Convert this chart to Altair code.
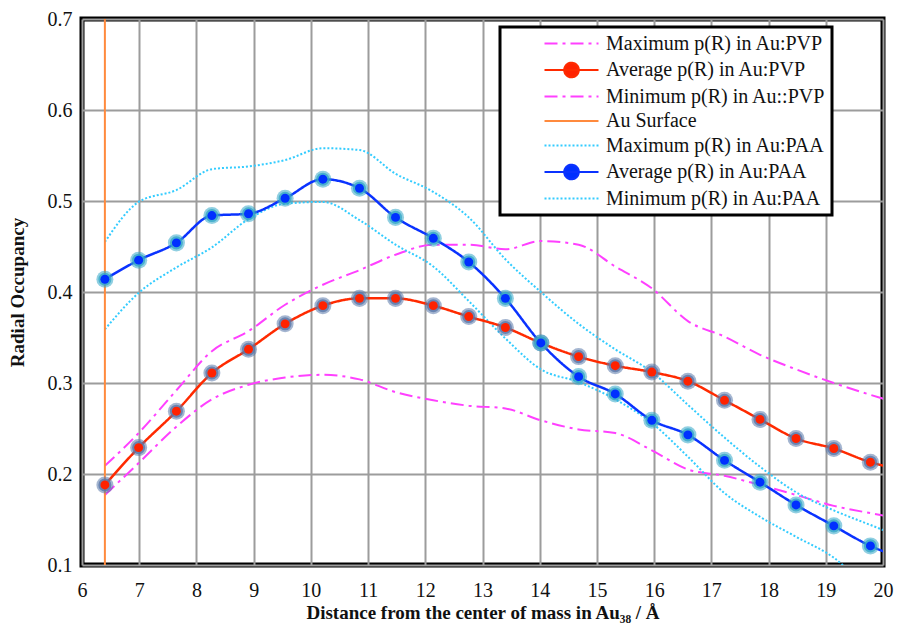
import altair as alt
import pandas as pd

# ---------------- data ----------------
x_vals = [6.40, 6.99, 7.65, 8.27, 8.91, 9.55, 10.21, 10.85, 11.48, 12.14, 12.76,
          13.40, 14.02, 14.68, 15.32, 15.96, 16.59, 17.23, 17.85, 18.48, 19.14,
          19.78, 20.42]

max_pvp = [0.209, 0.245, 0.292, 0.335, 0.357, 0.386, 0.408, 0.424, 0.441, 0.452, 0.452,
           0.447, 0.456, 0.452, 0.428, 0.404, 0.368, 0.351, 0.331, 0.315, 0.300,
           0.287, 0.275]
avg_pvp = [0.188, 0.229, 0.269, 0.311, 0.337, 0.365, 0.385, 0.393, 0.393, 0.385, 0.373,
           0.361, 0.344, 0.329, 0.319, 0.312, 0.302, 0.281, 0.260, 0.239, 0.228,
           0.213, 0.204]
min_pvp = [0.177, 0.212, 0.252, 0.282, 0.298, 0.306, 0.309, 0.304, 0.290, 0.281, 0.275,
           0.272, 0.259, 0.249, 0.245, 0.226, 0.205, 0.198, 0.188, 0.177, 0.165,
           0.157, 0.150]
max_paa = [0.455, 0.499, 0.512, 0.535, 0.538, 0.545, 0.558, 0.556, 0.530, 0.510, 0.482,
           0.436, 0.400, 0.365, 0.337, 0.312, 0.276, 0.240, 0.208, 0.180, 0.160,
           0.144, 0.128]
avg_paa = [0.414, 0.435, 0.454, 0.484, 0.486, 0.503, 0.524, 0.514, 0.482, 0.459, 0.433,
           0.393, 0.344, 0.307, 0.288, 0.259, 0.243, 0.215, 0.191, 0.166, 0.143,
           0.121, 0.106]
min_paa = [0.359, 0.399, 0.427, 0.449, 0.480, 0.497, 0.499, 0.479, 0.452, 0.428, 0.390,
           0.349, 0.315, 0.301, 0.282, 0.256, 0.219, 0.179, 0.153, 0.131, 0.108,
           0.072, 0.050]

surface_x = [6.4, 6.4]
surface_y = [0.1, 0.7]

series_names = ["Maximum p(R) in Au:PVP", "Average p(R) in Au:PVP",
                "Minimum p(R) in Au::PVP", "Au Surface",
                "Maximum p(R) in Au:PAA", "Average p(R) in Au:PAA",
                "Minimum p(R) in Au:PAA"]

x_ticks = list(range(6, 21))
y_ticks = [0.1, 0.2, 0.3, 0.4, 0.5, 0.6, 0.7]

# ---------------- styles ----------------
MAGENTA = "#FF40FF"
RED = "#FF2A00"
ORANGE = "#FF8A3D"
CYAN = "#33CCFF"
BLUE = "#0A32FF"
DASHDOT = [13, 5, 3, 5]
DOTTED = [2, 2]
SOLID = [1, 0]
SERIF = "'Liberation Serif', 'Times New Roman', Times, serif"

def frame(xs, ys, name):
    return pd.DataFrame({"x": xs, "y": ys, "series": name})

df_all = pd.concat([
    frame(x_vals, max_pvp, series_names[0]),
    frame(x_vals, avg_pvp, series_names[1]),
    frame(x_vals, min_pvp, series_names[2]),
    frame(surface_x, surface_y, series_names[3]),
    frame(x_vals, max_paa, series_names[4]),
    frame(x_vals, avg_paa, series_names[5]),
    frame(x_vals, min_paa, series_names[6]),
], ignore_index=True)

X = alt.X("x:Q", scale=alt.Scale(domain=[6, 20], nice=False),
          axis=alt.Axis(values=x_ticks, format="d", grid=True, gridColor="#9C9C9C",
                        gridWidth=2, domain=False, ticks=False, labelFlush=False,
                        labelFont=SERIF, labelFontSize=20, labelColor="#111",
                        labelPadding=15,
                        title="Distance from the center of mass in Au\u2083\u2088 / \u00c5",
                        titleFont=SERIF, titleFontSize=19, titleFontWeight="bold",
                        titleColor="#111", titlePadding=3))
Y = alt.Y("y:Q", scale=alt.Scale(domain=[0.1, 0.7], nice=False, zero=False),
          axis=alt.Axis(values=y_ticks, format=".1f", grid=True, gridColor="#9C9C9C",
                        gridWidth=2, domain=False, ticks=False, labelFlush=False,
                        labelFont=SERIF, labelFontSize=20, labelColor="#111",
                        labelPadding=10, title="Radial Occupancy",
                        titleFont=SERIF, titleFontSize=19, titleFontWeight="bold",
                        titleColor="#111", titlePadding=20))

base = alt.Chart(df_all)

def line_layer(name, color, dash, width, interp="monotone"):
    return base.transform_filter(alt.datum.series == name).mark_line(
        clip=True, color=color, strokeDash=dash, strokeWidth=width,
        interpolate=interp).encode(x=X, y=Y, order="x:Q")

lines = [
    line_layer(series_names[0], MAGENTA, DASHDOT, 2),
    line_layer(series_names[2], MAGENTA, DASHDOT, 2),
    line_layer(series_names[4], CYAN, DOTTED, 2),
    line_layer(series_names[6], CYAN, DOTTED, 2),
    line_layer(series_names[3], ORANGE, SOLID, 2, "linear"),
    line_layer(series_names[1], RED, SOLID, 2.5),
    line_layer(series_names[5], BLUE, SOLID, 2.5),
]

def point_layers(name, core, glow):
    b = base.transform_filter(alt.datum.series == name)
    halo = b.mark_point(clip=True, filled=True, size=290, color=glow,
                        opacity=0.55).encode(x=X, y=Y)
    ring = b.mark_point(clip=True, filled=True, size=170, color=glow,
                        opacity=0.8).encode(x=X, y=Y)
    dot = b.mark_point(clip=True, filled=True, size=80, color=core,
                       opacity=1).encode(x=X, y=Y)
    return [halo, ring, dot]

points = point_layers(series_names[1], "#FF2200", "#5A78AA") + \
         point_layers(series_names[5], "#0030FF", "#35A8C8")

# ---------------- legend (from off-plot, clipped points) ----------------
circ = "M-0.8,0A0.8,0.8,0,1,0,0.8,0A0.8,0.8,0,1,0,-0.8,0Z"
line_path = "M-3,0H3"
legend_shapes = [line_path, line_path + circ, line_path, line_path,
                 line_path, line_path + circ, line_path]
legend_fills = ["transparent", "#FF2200", "transparent", "transparent",
                "transparent", "#0030FF", "transparent"]
legend_strokes = [MAGENTA, RED, MAGENTA, ORANGE, CYAN, BLUE, CYAN]
legend_dashes = [DASHDOT, SOLID, DASHDOT, SOLID, DOTTED, SOLID, DOTTED]

leg_df = pd.DataFrame({"x": [100.0] * 7, "y": [0.5] * 7, "series": series_names})

LEG = alt.Legend(title=None, orient="none", legendX=418, legendY=8,
                 direction="vertical", fillColor="white", strokeColor="black",
                 padding=6, symbolSize=324, symbolStrokeWidth=2.2,
                 symbolOffset=55, labelOffset=24, rowPadding=3.5,
                 labelFont=SERIF, labelFontSize=20, labelColor="#111",
                 labelLimit=420, symbolOpacity=1)

legend_layer = alt.Chart(leg_df).mark_point(clip=True, size=324, strokeWidth=2.2).encode(
    x=X, y=Y,
    shape=alt.Shape("series:N", scale=alt.Scale(domain=series_names, range=legend_shapes),
                    legend=LEG, sort=series_names),
    fill=alt.Fill("series:N", scale=alt.Scale(domain=series_names, range=legend_fills),
                  legend=LEG, sort=series_names),
    stroke=alt.Stroke("series:N", scale=alt.Scale(domain=series_names, range=legend_strokes),
                      legend=LEG, sort=series_names),
    strokeDash=alt.StrokeDash("series:N", scale=alt.Scale(domain=series_names, range=legend_dashes),
                              legend=LEG, sort=series_names),
)

chart = alt.layer(*lines, *points, legend_layer).properties(
    width=801, height=546,
    autosize=alt.AutoSizeParams(type="none"),
    padding={"left": 74, "top": 11, "right": 11, "bottom": 58},
).configure(font=SERIF).configure_view(stroke="black", strokeWidth=5).configure_legend(strokeWidth=3)

chart.save("out.html", embed_options={"renderer": "svg", "actions": False})
